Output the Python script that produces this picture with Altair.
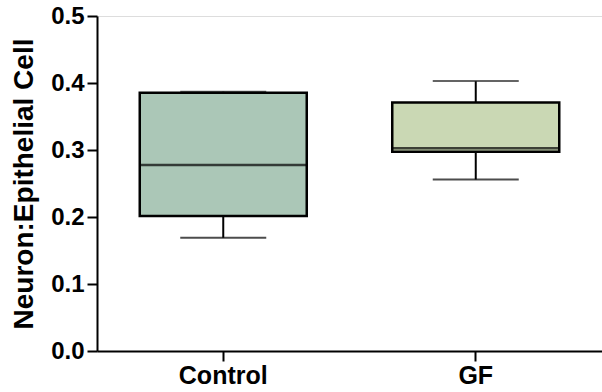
import altair as alt
import pandas as pd

groups = ["Control", "GF"]
mins = [0.169, 0.256]
q1s = [0.2015, 0.2975]
medians = [0.2776, 0.3025]
q3s = [0.3855, 0.371]
maxs = [0.387, 0.403]
fills = ["#abc7b7", "#cad8b4"]

df = pd.DataFrame({"group": groups, "min": mins, "q1": q1s, "median": medians,
                   "q3": q3s, "max": maxs})

FONT = "Liberation Sans"

x = alt.X("group:N", sort=groups, title=None,
          scale=alt.Scale(paddingInner=0, paddingOuter=0),
          axis=alt.Axis(labelAngle=0, labelFont=FONT, labelFontSize=25, labelFontWeight="bold",
                        labelColor="black", labelPadding=2, tickSize=10, tickWidth=2,
                        tickColor="black", domainColor="black", domainWidth=2, grid=False))
yscale = alt.Scale(domain=[0, 0.5], nice=False)
yaxis = alt.Axis(values=[0, 0.1, 0.2, 0.3, 0.4, 0.5], format=".1f", labelFont=FONT,
                 labelFontSize=24, labelFontWeight="bold", labelColor="black", labelPadding=3,
                 tickSize=10, tickWidth=2, tickColor="black", domainColor="black", domainWidth=2,
                 grid=False, title="Neuron:Epithelial Cell", titleFont=FONT, titleFontSize=28,
                 titleFontWeight="bold", titleColor="black", titlePadding=12)

base = alt.Chart(df)

lower = base.mark_rule(color="black", strokeWidth=2).encode(
    x=x, y=alt.Y("min:Q", scale=yscale, axis=yaxis), y2="q1:Q")
upper = base.mark_rule(color="black", strokeWidth=2).encode(
    x=x, y=alt.Y("q3:Q", scale=yscale, axis=yaxis), y2="max:Q")
cap_lo = base.mark_tick(color="black", thickness=2, size=86).encode(
    x=x, y=alt.Y("min:Q", scale=yscale, axis=yaxis))
cap_hi = base.mark_tick(color="#222222", thickness=2, size=86).encode(
    x=x, y=alt.Y("max:Q", scale=yscale, axis=yaxis))
box = base.mark_bar(size=167, stroke="black", strokeWidth=2.5).encode(
    x=x, y=alt.Y("q1:Q", scale=yscale, axis=yaxis), y2="q3:Q",
    fill=alt.Fill("group:N", scale=alt.Scale(domain=groups, range=fills), legend=None))
med = base.mark_tick(color="black", thickness=2.5, size=167).encode(
    x=x, y=alt.Y("median:Q", scale=yscale, axis=yaxis))

chart = alt.layer(lower, upper, cap_lo, cap_hi, box, med).properties(
    width=505, height=335,
    autosize=alt.AutoSizeParams(type="none"),
    padding={"left": 97, "top": 16, "right": 0, "bottom": 41},
).configure_view(stroke=None).configure(background="white")

chart.save("out.html", embed_options={"renderer": "svg", "actions": False})
